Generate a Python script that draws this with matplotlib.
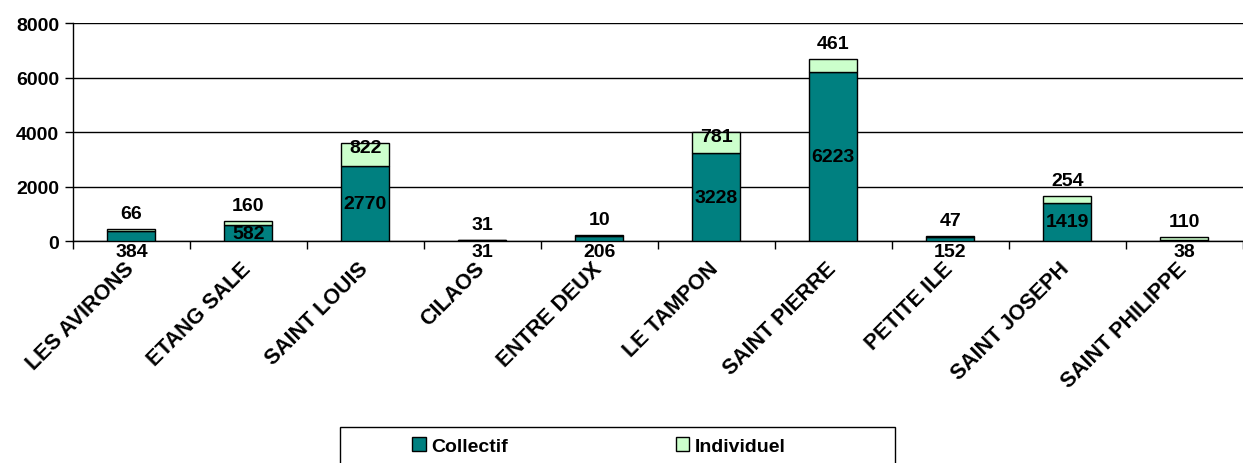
import numpy as np
import matplotlib
matplotlib.use('Agg')
import matplotlib.pyplot as plt
import matplotlib.patches as patch

# data
communes = ['LES AVIRONS', 'ETANG SALE', 'SAINT LOUIS', 'CILAOS', 'ENTRE DEUX',
            'LE TAMPON', 'SAINT PIERRE', 'PETITE ILE', 'SAINT JOSEPH', 'SAINT PHILIPPE']
collectif = [384, 582, 2770, 31, 206, 3228, 6223, 152, 1419, 38]
individuel = [66, 160, 822, 31, 10, 781, 461, 47, 254, 110]

teal = '#008080'
pale = '#CCFFCC'

plt.rcParams['font.family'] = ['Liberation Sans', 'DejaVu Sans']
plt.rcParams['font.weight'] = 'bold'

fig = plt.figure(figsize=(12.43, 4.64), dpi=100)
ax = fig.add_axes([0.0587, 0.478, 0.941, 0.470])

x = np.arange(len(communes))
w = 0.41
c = np.array(collectif)
i = np.array(individuel)
ax.bar(x, c, w, color=teal, edgecolor='black', linewidth=1, label='Collectif', zorder=3)
ax.bar(x, i, w, bottom=c, color=pale, edgecolor='black', linewidth=1, label='Individuel', zorder=3)

# value labels, roughly where excel put them
fs = 14
for k in range(len(x)):
    if c[k] < 500:
        ax.annotate(str(c[k]), (x[k], 0), xytext=(0, -1), textcoords='offset points',
                    ha='center', va='top', fontsize=fs, fontweight='bold', zorder=4)
    else:
        ax.text(x[k], c[k] / 2, str(c[k]), ha='center', va='center',
                fontsize=fs, fontweight='bold', zorder=4)
    top = c[k] + i[k]
    if i[k] < 700:
        ax.annotate(str(i[k]), (x[k], top), xytext=(0, 5), textcoords='offset points',
                    ha='center', va='bottom', fontsize=fs, fontweight='bold', zorder=4)
    else:
        ax.annotate(str(i[k]), (x[k], top), xytext=(0, -3), textcoords='offset points',
                    ha='center', va='center', fontsize=fs, fontweight='bold', zorder=4)

ax.set_xlim(-0.5, len(x) - 0.5)
ax.set_ylim(0, 8000)
ax.set_yticks(np.arange(0, 8001, 2000))
ax.yaxis.grid(True, color='black', linewidth=1, zorder=0)
ax.set_axisbelow(True)

ax.set_xticks(np.arange(-0.5, len(x) - 0.4, 1.0))
ax.set_xticklabels([])
ax.set_xticks(x - 0.07, minor=True)
ax.set_xticklabels(communes, minor=True, rotation=45, ha='right', va='top',
                   rotation_mode='anchor', fontsize=15.5, fontweight='bold')
ax.tick_params(axis='x', which='minor', length=0, pad=12)
ax.tick_params(axis='x', which='major', direction='out', length=6, width=1)
ax.tick_params(axis='y', direction='out', length=6, width=1, labelsize=fs, pad=4)
for lab in ax.get_yticklabels():
    lab.set_fontweight('bold')

for s in ['top', 'right']:
    ax.spines[s].set_visible(False)
ax.spines['left'].set_linewidth(1)
ax.spines['bottom'].set_linewidth(1)

# legend box, cut by the bottom edge like the original
fig.patches.append(patch.Rectangle((340 / 1243, -0.05), 555 / 1243, 0.05 + 36 / 464,
                                   transform=fig.transFigure, fill=False,
                                   edgecolor='black', linewidth=1))
leg = fig.legend(loc='center', bbox_to_anchor=(0.482, 17 / 464), ncol=2,
                 fontsize=fs, frameon=False, handlelength=0.7, handleheight=0.7,
                 handletextpad=0.3, columnspacing=8.6, borderpad=0)
for t in leg.get_texts():
    t.set_fontweight('bold')
for h in leg.legend_handles:
    h.set_edgecolor('black')

fig.savefig('out.png', dpi=100)
